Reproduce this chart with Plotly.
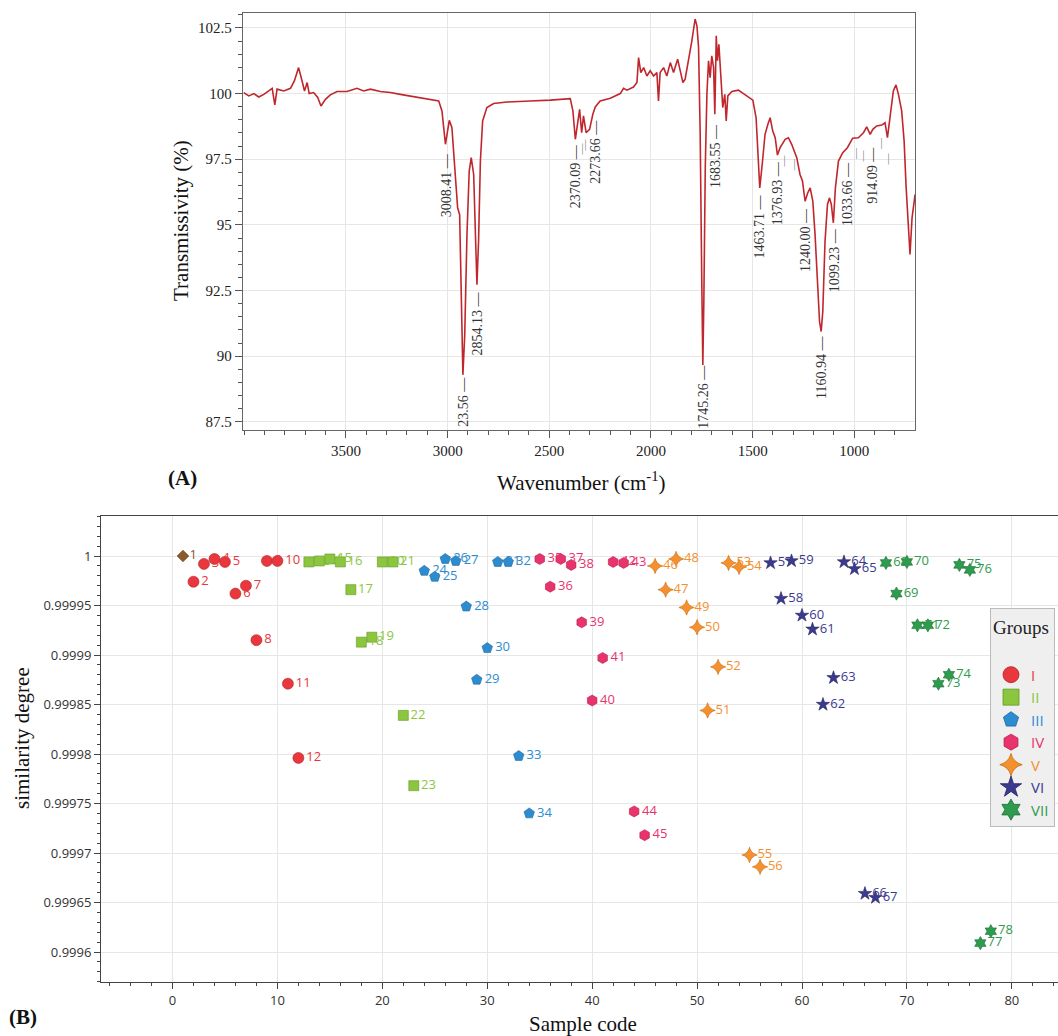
import plotly.graph_objects as go

# ---------------- Panel A : FTIR spectrum ----------------
wavenumber = [4003, 3978, 3953, 3929, 3904, 3880, 3863, 3850, 3839, 3806, 3773, 3754, 3733, 3716,
              3704, 3691, 3681, 3659, 3639, 3623, 3601, 3577, 3544, 3495, 3446, 3413, 3380, 3331,
              3282, 3233, 3183, 3134, 3085, 3044, 3028, 3011, 3003, 2992, 2979, 2962, 2951, 2941,
              2933, 2925, 2916, 2905, 2894, 2884, 2872, 2862, 2856, 2848, 2839, 2828, 2807, 2774,
              2708, 2594, 2495, 2397, 2384, 2372, 2361, 2351, 2341, 2332, 2319, 2302, 2286, 2274,
              2250, 2200, 2151, 2143, 2135, 2118, 2086, 2069, 2061, 2050, 2036, 2020, 2004, 1987,
              1971, 1963, 1955, 1938, 1922, 1905, 1889, 1869, 1856, 1843, 1832, 1815, 1799, 1783,
              1774, 1766, 1758, 1750, 1745, 1740, 1733, 1725, 1717, 1709, 1701, 1692, 1686, 1679,
              1673, 1666, 1656, 1647, 1637, 1630, 1622, 1602, 1570, 1529, 1499, 1483, 1473, 1465,
              1453, 1439, 1425, 1414, 1401, 1389, 1378, 1365, 1340, 1324, 1308, 1283, 1267, 1255,
              1242, 1229, 1217, 1204, 1193, 1181, 1171, 1163, 1155, 1144, 1132, 1122, 1113, 1103,
              1093, 1078, 1057, 1034, 1008, 980, 955, 939, 922, 909, 890, 865, 849, 837, 824, 808,
              795, 783, 767, 755, 745, 734, 726, 716, 701]
transmissivity = [100.04, 99.91, 100.0, 99.87, 99.97, 100.1, 100.2, 99.57, 100.17, 100.1, 100.2,
                  100.48, 100.99, 100.48, 100.1, 100.42, 100.0, 100.04, 99.85, 99.53, 99.78, 99.95,
                  100.08, 100.08, 100.2, 100.1, 100.17, 100.08, 100.04, 99.97, 99.91, 99.85, 99.78,
                  99.72, 99.34, 98.07, 98.45, 98.98, 98.70, 96.92, 95.65, 95.39, 92.09, 89.29, 90.81,
                  94.63, 97.05, 97.56, 96.92, 94.63, 92.72, 94.38, 97.43, 98.96, 99.47, 99.62, 99.68,
                  99.72, 99.75, 99.81, 99.34, 98.26, 98.83, 99.40, 98.51, 99.15, 98.51, 98.64, 99.21,
                  99.49, 99.72, 99.82, 100.0, 100.08, 100.2, 100.13, 100.25, 100.42, 101.37, 100.80,
                  100.99, 100.67, 100.87, 100.67, 100.80, 99.72, 100.80, 100.99, 100.67, 101.18,
                  100.80, 101.31, 100.80, 100.42, 100.55, 101.25, 102.01, 102.84, 102.58, 101.76,
                  98.45, 92.72, 89.67, 92.09, 97.18, 99.97, 101.25, 100.61, 101.44, 100.99, 99.21,
                  102.20, 101.25, 101.88, 100.48, 99.47, 99.97, 98.96, 99.91, 100.08, 100.13, 99.91,
                  99.75, 99.08, 97.81, 96.41, 97.30, 98.45, 98.83, 99.08, 98.57, 98.32, 97.66, 97.94,
                  98.26, 98.32, 98.07, 97.56, 96.92, 96.67, 95.90, 96.22, 96.41, 95.90, 94.63, 92.72,
                  91.32, 90.94, 91.70, 94.38, 95.78, 96.03, 95.78, 95.08, 96.41, 97.43, 97.75, 97.94,
                  98.30, 98.32, 98.51, 98.73, 98.45, 98.64, 98.77, 98.80, 98.89, 98.32, 99.21, 100.10,
                  100.33, 99.97, 99.34, 98.19, 96.41, 94.89, 93.87, 95.27, 96.16]

peak_labels = ["3008.41", "23.56", "2854.13", "2370.09", "2273.66", "1745.26", "1683.55",
               "1463.71", "1376.93", "1240.00", "1160.94", "1099.23", "1033.66", "914.09"]
peak_wn = [3008.41, 2923.56, 2854.13, 2370.09, 2273.66, 1745.26, 1683.55,
           1463.71, 1376.93, 1240.00, 1160.94, 1099.23, 1033.66, 914.09]
peak_label_top = [97.80, 89.30, 92.55, 98.14, 99.09, 89.74, 98.93,
                  96.23, 97.49, 95.70, 90.85, 94.95, 97.49, 98.06]
minor_peak_wn = [2345, 2330, 1352, 1303, 999, 963, 877, 840]
minor_peak_top = [98.23, 98.38, 97.77, 97.62, 98.04, 97.96, 98.42, 97.85]

a_xticks = [3500, 3000, 2500, 2000, 1500, 1000]
a_yticks = [87.5, 90, 92.5, 95, 97.5, 100, 102.5]
a_yticktext = ["87.5", "90", "92.5", "95", "97.5", "100", "102.5"]

# ---------------- Panel B : similarity degree ----------------
ref_code = [1]
ref_sim = [1.0]

group_names = ["I", "II", "III", "IV", "V", "VI", "VII"]
group_codes = [
    [2, 3, 4, 5, 6, 7, 8, 9, 10, 11, 12],
    [13, 14, 15, 16, 17, 18, 19, 20, 21, 22, 23],
    [24, 25, 26, 27, 28, 29, 30, 31, 32, 33, 34],
    [35, 36, 37, 38, 39, 40, 41, 42, 43, 44, 45],
    [46, 47, 48, 49, 50, 51, 52, 53, 54, 55, 56],
    [57, 58, 59, 60, 61, 62, 63, 64, 65, 66, 67],
    [68, 69, 70, 71, 72, 73, 74, 75, 76, 77, 78],
]
group_sim = [
    [0.999974, 0.999992, 0.999997, 0.999994, 0.999962, 0.999970, 0.999915, 0.999995, 0.999995, 0.999871, 0.999796],
    [0.999994, 0.999995, 0.999997, 0.999994, 0.999966, 0.999913, 0.999918, 0.999994, 0.999994, 0.999839, 0.999768],
    [0.999985, 0.999979, 0.999997, 0.999995, 0.999949, 0.999875, 0.999907, 0.999994, 0.999994, 0.999798, 0.999740],
    [0.999997, 0.999969, 0.999997, 0.999991, 0.999933, 0.999854, 0.999897, 0.999994, 0.999993, 0.999742, 0.999718],
    [0.999990, 0.999966, 0.999997, 0.999948, 0.999928, 0.999844, 0.999888, 0.999993, 0.999989, 0.999698, 0.999686],
    [0.999993, 0.999957, 0.999995, 0.999940, 0.999926, 0.999850, 0.999877, 0.999994, 0.999987, 0.999659, 0.999655],
    [0.999993, 0.999962, 0.999994, 0.999930, 0.999930, 0.999871, 0.999880, 0.999991, 0.999986, 0.999609, 0.999621],
]
group_colors = ["#e8383d", "#8cc63f", "#2d8ccf", "#e8336d", "#f5902e", "#3b3a8f", "#2e9b4e"]
group_edge = ["#b52025", "#5f9a22", "#1b6aa3", "#b81d4d", "#c96a12", "#24235f", "#1d7036"]
group_symbols = ["circle", "square", "pentagon", "hexagon", "star-diamond", "star", "hexagram"]
group_sizes = [11, 10, 11, 11, 11, 10, 10]

b_xticks = [0, 10, 20, 30, 40, 50, 60, 70, 80]
b_yticks = [0.9996, 0.99965, 0.9997, 0.99975, 0.9998, 0.99985, 0.9999, 0.99995, 1.0]
b_yticktext = ["0.9996", "0.99965", "0.9997", "0.99975", "0.9998", "0.99985", "0.9999", "0.99995", "1"]

W, H = 1058, 1036
SERIF = "Liberation Serif, Times New Roman, serif"
SANS = "Open Sans, Noto Sans, sans-serif"

fig = go.Figure()

fig.add_trace(go.Scatter(x=wavenumber, y=transmissivity, mode="lines",
                         line=dict(color="#c0272d", width=1.6), showlegend=False,
                         xaxis="x", yaxis="y"))

# peak labels
for lab, wn, top in zip(peak_labels, peak_wn, peak_label_top):
    fig.add_annotation(x=wn, y=top, xref="x", yref="y", text=lab + " \u2014",
                       textangle=-90, xanchor="center", yanchor="top", showarrow=False,
                       font=dict(family=SERIF, size=14, color="#333333"))
for wn, top in zip(minor_peak_wn, minor_peak_top):
    fig.add_annotation(x=wn, y=top, xref="x", yref="y", text="\u2014",
                       textangle=-90, xanchor="center", yanchor="top", showarrow=False,
                       font=dict(family=SERIF, size=11, color="#777777"))

# reference point 1
fig.add_trace(go.Scatter(x=ref_code, y=ref_sim, mode="markers+text",
                         text=[str(c) for c in ref_code], textposition="middle right",
                         textfont=dict(family=SANS, size=13, color="#8b5a2b"),
                         marker=dict(symbol="diamond", size=9, color="#8b5a2b",
                                     line=dict(color="#5e3a17", width=0.6)),
                         showlegend=False, xaxis="x2", yaxis="y2", cliponaxis=False))

for name, codes, sims, col, edge, sym, sz in zip(group_names, group_codes, group_sim,
                                                 group_colors, group_edge, group_symbols, group_sizes):
    fig.add_trace(go.Scatter(x=codes, y=sims, mode="markers+text",
                             text=[str(c) for c in codes], textposition="middle right",
                             textfont=dict(family=SANS, size=13, color=col),
                             marker=dict(symbol=sym, size=sz, color=col,
                                         line=dict(color=edge, width=0.6)),
                             showlegend=False, xaxis="x2", yaxis="y2", cliponaxis=False))
    # legend entry
    fig.add_trace(go.Scatter(x=[None], y=[None], mode="markers",
                             name="<span style='color:%s'>%s</span>" % (col, name),
                             marker=dict(symbol=sym, size=16, color=col,
                                         line=dict(color=edge, width=0.8)),
                             showlegend=True, xaxis="x2", yaxis="y2"))

axis_common = dict(showline=True, ticks="outside", zeroline=False, showgrid=True,
                   gridcolor="#e6e6e6", gridwidth=1)

fig.update_layout(
    width=W, height=H,
    margin=dict(l=0, r=0, t=0, b=0),
    paper_bgcolor="white", plot_bgcolor="white",
    xaxis=dict(domain=[242.7 / W, 915 / W], range=[4008, 701.5], anchor="y",
               tickvals=a_xticks, ticktext=[str(v) for v in a_xticks],
               tickfont=dict(family=SERIF, size=15, color="#222222"),
               linecolor="#666666", mirror=True, ticklen=7, tickcolor="#555555",
               minor=dict(dtick=100, tick0=0, ticks="outside", ticklen=4, tickcolor="#555555", showgrid=False),
               **axis_common),
    yaxis=dict(domain=[1 - 430 / H, 1 - 12.7 / H], range=[87.19, 103.08], anchor="x",
               tickvals=a_yticks, ticktext=a_yticktext,
               tickfont=dict(family=SERIF, size=15, color="#222222"),
               linecolor="#666666", mirror=True, ticklen=7, tickcolor="#555555",
               minor=dict(dtick=0.5, tick0=0, ticks="outside", ticklen=4, tickcolor="#555555", showgrid=False),
               **axis_common),
    xaxis2=dict(domain=[101 / W, 1.0], range=[-6.815, 84.4], anchor="y2",
                tickvals=b_xticks, ticktext=[str(v) for v in b_xticks],
                tickfont=dict(family=SANS, size=13, color="#333333"),
                linecolor="#444444", mirror=True, ticklen=6, tickcolor="#444444",
                minor=dict(dtick=2, tick0=0, ticks="outside", ticklen=3, tickcolor="#444444", showgrid=False),
                **axis_common),
    yaxis2=dict(domain=[1 - 982 / H, 1 - 516 / H], range=[0.9995697, 1.0000404], anchor="x2",
                tickvals=b_yticks, ticktext=b_yticktext,
                tickfont=dict(family=SANS, size=13, color="#333333"),
                linecolor="#444444", mirror=False, ticklen=6, tickcolor="#444444",
                minor=dict(dtick=0.00001, tick0=0.9996, ticks="outside", ticklen=3, tickcolor="#444444", showgrid=False),
                **axis_common),
    legend=dict(x=990 / W, y=1 - 608 / H, xanchor="left", yanchor="top",
                bgcolor="#efefef", bordercolor="#bbbbbb", borderwidth=1,
                title=dict(text="Groups<br> ", font=dict(family=SERIF, size=19, color="#222222")),
                font=dict(family=SANS, size=15), itemsizing="trace"),
)

def pan(text, px, py, size=21, angle=0, bold=False):
    fig.add_annotation(x=px / W, y=1 - py / H, xref="paper", yref="paper",
                       text=("<b>%s</b>" % text) if bold else text, textangle=angle,
                       showarrow=False, xanchor="center", yanchor="middle",
                       font=dict(family=SERIF, size=size, color="#111111"))

pan("Transmissivity (%)", 181, 221, angle=-90)
pan("Wavenumber (cm<sup>-1</sup>)", 581, 481)
pan("(A)", 183, 478, size=21, bold=True)
pan("similarity degree", 22, 738, angle=-90)
pan("Sample code", 583, 1024)
pan("(B)", 23, 1017, size=21, bold=True)

fig.write_html("out.html", config={"displayModeBar": False},
               post_script="document.body.style.margin='0px';document.body.style.padding='0px';"
                           "document.documentElement.style.overflow='hidden';")
